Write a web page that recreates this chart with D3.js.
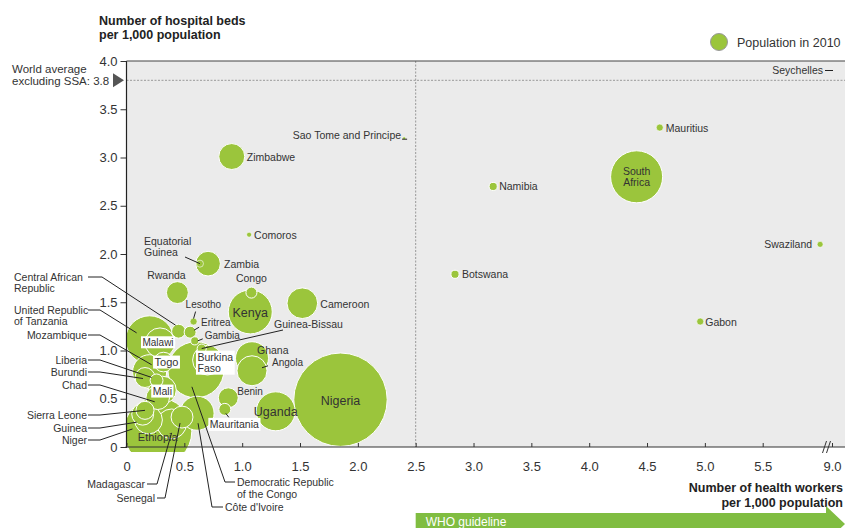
<!DOCTYPE html>
<html>
<head>
<meta charset="utf-8">
<script src="https://cdn.jsdelivr.net/npm/d3@7"></script>
<style>
  body {margin:0; background:#fff;}
  svg text {font-family:"Liberation Sans", Arial, sans-serif; fill:#333;}
</style>
</head>
<body>
<svg id="chart" width="845" height="528"></svg>
<script>
// data
var countries = ["Nigeria","Ethiopia","Democratic Republic of the Congo","United Republic of Tanzania","Kenya","South Africa","Uganda","Ghana","Mozambique","Madagascar","Côte d'Ivoire","Cameroon","Angola","Burkina Faso","Niger","Malawi","Mali","Zambia","Zimbabwe","Senegal","Chad","Rwanda","Guinea","Burundi","Benin","Sierra Leone","Togo","Eritrea","Central African Republic","Liberia","Congo","Mauritania","Namibia","Lesotho","Botswana","Gambia","Guinea-Bissau","Gabon","Mauritius","Swaziland","Equatorial Guinea","Comoros","Sao Tome and Principe"];
var healthWorkers = [1.85,0.27,0.60,0.20,1.07,4.41,1.29,1.085,0.20,0.39,0.61,1.52,1.085,0.70,0.19,0.29,0.31,0.705,0.91,0.48,0.27,0.44,0.14,0.16,0.88,0.16,0.32,0.55,0.45,0.26,1.08,0.85,3.17,0.58,2.84,0.59,0.65,4.96,4.61,8.4,0.635,1.06,2.40];
var hospitalBeds = [0.49,0.16,0.80,1.11,1.40,2.80,0.37,0.92,0.78,0.24,0.35,1.49,0.79,0.90,0.28,1.08,0.59,1.90,3.01,0.31,0.51,1.60,0.34,0.72,0.51,0.38,0.88,1.19,1.20,0.69,1.60,0.39,2.70,1.30,1.79,1.10,1.02,1.30,3.31,2.10,1.90,2.20,3.20];
var population = [158,84,57,42,35,49,27.5,19.7,21,16,21,17,16.3,16,14,16,14,11,12.2,8.7,10,8.7,8.7,7.2,7.2,5.9,7,2.6,3.5,3,2.2,2.6,1.2,0.9,1.2,1.2,1.5,0.9,0.9,0.65,0.9,0.45,0.16]; // millions, 2010

var xTicks = [0,0.5,1,1.5,2,2.5,3,3.5,4,4.5,5,5.5,9];
var xTickLabels = ["0","0.5","1.0","1.5","2.0","2.5","3.0","3.5","4.0","4.5","5.0","5.5","9.0"];
var yTicks = [0,0.5,1,1.5,2,2.5,3,3.5,4];
var yTickLabels = ["0","0.5","1.0","1.5","2.0","2.5","3.0","3.5","4.0"];

var worldAverage = 3.8;
var whoGuideline = 2.5;

var green = "#9bc53c";
var arrowGreen = "#80bd41";

var svg = d3.select("#chart");

var pLeft = 126.5, pRight = 845, pTop = 61, pBottom = 447;

// axis broken between 5.5 and 9.0
var x = d3.scaleLinear().domain([0,5.5,9]).range([pLeft,762.7,832]);
var y = d3.scaleLinear().domain([0,4]).range([pBottom,pTop]);
var r = d3.scaleSqrt().domain([0,160]).range([0,47]);

var data = countries.map(function(c,i) {
  return {name:c, hw:healthWorkers[i], beds:hospitalBeds[i], pop:population[i]};
});
var byName = {};
data.forEach(function(d) { byName[d.name] = d; });

// plot panel
svg.append("rect").attr("x",pLeft).attr("y",pTop)
  .attr("width",pRight-pLeft).attr("height",pBottom-pTop).attr("fill","#ebebeb");

svg.append("defs").append("clipPath").attr("id","plotclip")
  .append("rect").attr("x",pLeft).attr("y",pTop).attr("width",pRight-pLeft).attr("height",pBottom-pTop+5);

// reference lines
svg.append("line")
  .attr("x1",x(whoGuideline)).attr("x2",x(whoGuideline))
  .attr("y1",pTop).attr("y2",pBottom)
  .attr("stroke","#999").attr("stroke-dasharray","2,1.5");
svg.append("line")
  .attr("x1",pLeft).attr("x2",pRight)
  .attr("y1",y(worldAverage)).attr("y2",y(worldAverage))
  .attr("stroke","#999").attr("stroke-dasharray","2,1.5");

// bubbles, biggest behind
svg.append("g").attr("clip-path","url(#plotclip)")
  .selectAll("circle")
  .data(data.slice().sort(function(a,b){ return b.pop - a.pop; }))
  .enter().append("circle")
  .attr("cx",function(d){ return x(d.hw); })
  .attr("cy",function(d){ return y(d.beds); })
  .attr("r",function(d){ return r(d.pop); })
  .attr("fill",green)
  .attr("stroke","#fff")
  .attr("stroke-width",function(d){ return d.pop < 1 ? 0.6 : 1; });

// axes
var yAxis = d3.axisLeft(y).tickValues(yTicks)
  .tickFormat(function(d,i){ return yTickLabels[i]; })
  .tickSize(6).tickSizeOuter(0).tickPadding(3);
var gy = svg.append("g").attr("transform","translate("+pLeft+",0)").call(yAxis);
gy.select(".domain").remove();
gy.selectAll("line").attr("stroke","#333");
gy.selectAll("text").style("font-size","13px").attr("fill","#333");

var xAxis = d3.axisBottom(x).tickValues(xTicks)
  .tickFormat(function(d,i){ return xTickLabels[i]; })
  .tickSize(-4).tickSizeOuter(0).tickPadding(15);
var gx = svg.append("g").attr("transform","translate(0,"+pBottom+")").call(xAxis);
gx.select(".domain").remove();
gx.selectAll("line").attr("stroke","#333");
gx.selectAll("text").style("font-size","13px").attr("fill","#333");

svg.append("line").attr("x1",pLeft).attr("x2",pLeft).attr("y1",pTop).attr("y2",pBottom+1)
  .attr("stroke","#222").attr("stroke-width",1.2);
svg.append("line").attr("x1",pLeft).attr("x2",pRight).attr("y1",pTop).attr("y2",pTop)
  .attr("stroke","#444").attr("stroke-width",1.2);
svg.append("line").attr("x1",pLeft-1).attr("x2",pRight).attr("y1",pBottom).attr("y2",pBottom)
  .attr("stroke","#333").attr("stroke-width",1.2);

// axis break
[824.5,828.5].forEach(function(bx) {
  svg.append("line").attr("x1",bx-2).attr("x2",bx+2).attr("y1",pBottom+6).attr("y2",pBottom-6)
    .attr("stroke","#333").attr("stroke-width",1);
});

// world average marker
var wy = y(worldAverage);
svg.append("path")
  .attr("d","M113,"+(wy-7)+"L124,"+wy+"L113,"+(wy+7)+"Z")
  .attr("fill","#555");
svg.append("text").attr("x",12).attr("y",73).style("font-size","11.5px").text("World average");
svg.append("text").attr("x",12).attr("y",85).style("font-size","11.5px").text("excluding SSA: 3.8");

// titles
svg.append("text").attr("x",99).attr("y",25).style("font-size","12.5px").style("font-weight","bold")
  .style("fill","#222").text("Number of hospital beds");
svg.append("text").attr("x",99).attr("y",39).style("font-size","12.5px").style("font-weight","bold")
  .style("fill","#222").text("per 1,000 population");
svg.append("text").attr("x",843).attr("y",492).attr("text-anchor","end").style("font-size","12.5px")
  .style("font-weight","bold").style("fill","#222").text("Number of health workers");
svg.append("text").attr("x",843).attr("y",507).attr("text-anchor","end").style("font-size","12.5px")
  .style("font-weight","bold").style("fill","#222").text("per 1,000 population");

// legend
svg.append("circle").attr("cx",719).attr("cy",42).attr("r",8.5)
  .attr("fill",green).attr("stroke","#999").attr("stroke-width",1);
svg.append("text").attr("x",737).attr("y",47).style("font-size","12.5px").text("Population in 2010");

// WHO guideline arrow
var ax = x(whoGuideline);
svg.append("path")
  .attr("d","M"+ax+",513L826,513L826,506L845,524L826,542L826,535L"+ax+",535Z")
  .attr("fill",arrowGreen);
svg.append("text").attr("x",ax+10).attr("y",526).style("font-size","12px")
  .style("fill","#fff").text("WHO guideline");

// off-chart marker
svg.append("text").attr("x",823).attr("y",74).attr("text-anchor","end").style("font-size","10.5px").text("Seychelles");
svg.append("line").attr("x1",825).attr("x2",833).attr("y1",70.5).attr("y2",70.5).attr("stroke","#222");

// label layout: offsets from bubble centre, or fixed spots with leaders
var labels = [
  {n:"Nigeria", dx:0, dy:5, a:"middle", s:12.5},
  {n:"Uganda", dx:0, dy:5, a:"middle", s:12.5},
  {n:"Kenya", dx:0, dy:5, a:"middle", s:12.5},
  {n:"Ethiopia", dx:0, dy:9, a:"middle", s:11},
  {n:"South Africa", t:["South","Africa"], dx:0, dy:-2, a:"middle", s:10.5},
  {n:"Zimbabwe", dx:15, dy:4},
  {n:"Comoros", dx:5, dy:4},
  {n:"Zambia", dx:16, dy:4},
  {n:"Congo", dx:0, dy:-11, a:"middle"},
  {n:"Rwanda", dx:-11, dy:-14, a:"middle"},
  {n:"Cameroon", dx:18, dy:5},
  {n:"Ghana", dx:5, dy:-4},
  {n:"Angola", dx:20, dy:-5, s:10, lead:[[10,-3],[16,-5]]},
  {n:"Benin", dx:9, dy:-3, s:10},
  {n:"Mauritania", dx:-15, dy:19, box:true, lead:[[1,4],[4,8]]},
  {n:"Malawi", dx:-2, dy:3, a:"middle", s:10, box:true},
  {n:"Togo", dx:3, dy:4, a:"middle", s:11, box:true},
  {n:"Mali", dx:0, dy:5, a:"middle", s:10.5, box:true},
  {n:"Burkina Faso", t:["Burkina","Faso"], dx:-10, dy:1, s:10.5, box:true},
  {n:"Namibia", dx:6, dy:4},
  {n:"Mauritius", dx:6, dy:4},
  {n:"Botswana", dx:7, dy:4},
  {n:"Gabon", dx:5, dy:4},
  {n:"Swaziland", dx:-8, dy:4, a:"end"},
  {n:"Sao Tome and Principe", dx:-3, dy:1, a:"end", lead:[[-2,1],[3,1]]},
  {n:"Lesotho", dx:-8, dy:-14, s:10, lead:[[0,-3],[2,-10]]},
  {n:"Eritrea", dx:11, dy:-6, s:10, lead:[[4,-2],[9,-5]]},
  {n:"Gambia", dx:10, dy:-2, s:10, lead:[[3,0],[8,-2]]},
  {n:"Guinea-Bissau", at:[274,328], lead:[[0,0],[283,330]], abs:true},
  {n:"Equatorial Guinea", t:["Equatorial","Guinea"], at:[144,245], lead:[[0,0],[185,257]], abs:true},
  // left column
  {n:"Central African Republic", t:["Central African","Republic"], at:[14,281], lead:[[-3,-6],[102,277],[88,277]], abs:true},
  {n:"United Republic of Tanzania", t:["United Republic","of Tanzania"], at:[14,314], lead:[[-13,-7],[100,310],[88,310]], abs:true},
  {n:"Mozambique", at:[87,339], a:"end", lead:[[2,-7],[100,335],[88,335]], abs:true},
  {n:"Liberia", at:[87,364], a:"end", lead:[[-5,-3],[100,360],[88,360]], abs:true},
  {n:"Burundi", at:[87,376], a:"end", lead:[[-2,1],[100,372],[88,372]], abs:true},
  {n:"Chad", at:[87,389], a:"end", lead:[[-3,4],[100,385],[88,385]], abs:true},
  {n:"Sierra Leone", at:[87,419], a:"end", lead:[[0,0],[100,415],[88,415]], abs:true},
  {n:"Guinea", at:[87,432], a:"end", lead:[[-6,8],[100,428],[88,428]], abs:true},
  {n:"Niger", at:[87,444], a:"end", lead:[[-16,9],[100,440],[88,440]], abs:true},
  // bottom
  {n:"Madagascar", at:[145,488], a:"end", lead:[[0,9],[157,484],[147,484]], abs:true},
  {n:"Senegal", at:[155,502], a:"end", lead:[[-2,6],[165,498],[157,498]], abs:true},
  {n:"Democratic Republic of the Congo", t:["Democratic Republic","of the Congo"], at:[237,486], lh:11.5, lead:[[-4,17],[225,482],[235,482]], abs:true},
  {n:"Côte d'Ivoire", at:[225,511], lead:[[1,10],[212,507],[223,507]], abs:true}
];

var leaderG = svg.append("g");
var labelG = svg.append("g");

labels.forEach(function(l) {
  var d = byName[l.n];
  var cx = x(d.hw), cy = y(d.beds);
  var size = l.s || 10.5;
  var lh = l.lh || size*1.05;
  var lines = l.t || [l.n];
  var tx = l.at ? l.at[0] : cx + l.dx;
  var ty = l.at ? l.at[1] : cy + l.dy;

  if (l.lead) {
    var pts = l.lead.map(function(p, i) {
      if (i == 0) return [cx + p[0], cy + p[1]];
      return l.abs ? p : [cx + p[0], cy + p[1]];
    });
    leaderG.append("path")
      .attr("d", d3.line()(pts))
      .attr("fill","none").attr("stroke","#222").attr("stroke-width",1);
  }

  var t = labelG.append("text")
    .attr("x",tx).attr("y",ty)
    .attr("text-anchor",l.a || "start")
    .style("font-size",size+"px");
  lines.forEach(function(line,i) {
    t.append("tspan").attr("x",tx).attr("dy", i == 0 ? 0 : lh).text(line);
  });

  if (l.box) {
    var bb = t.node().getBBox();
    labelG.insert("rect","text")
      .attr("x",bb.x-1.5).attr("y",bb.y-0.5)
      .attr("width",bb.width+3).attr("height",bb.height+1)
      .attr("fill","#fff");
  }
});
</script>
</body>
</html>
